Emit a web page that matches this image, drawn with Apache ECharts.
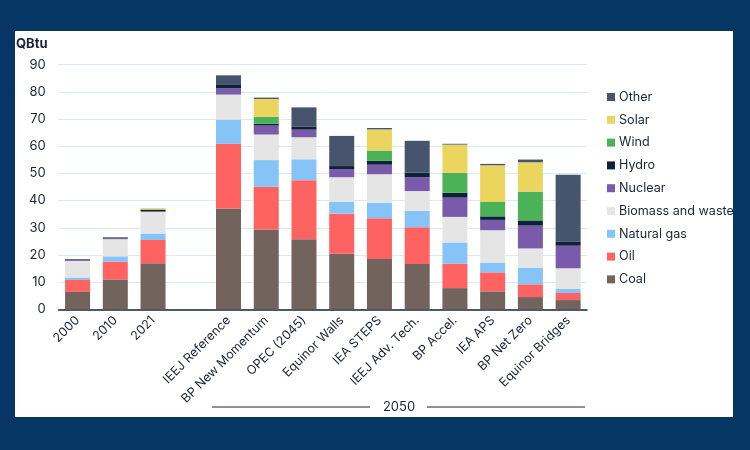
<!DOCTYPE html>
<html>
<head>
<meta charset="utf-8">
<script src="https://cdn.jsdelivr.net/npm/echarts@6/dist/echarts.min.js"></script>
<style>
html,body{margin:0;padding:0;background:#063764;width:750px;height:450px;overflow:hidden;}
#panel{position:absolute;left:15px;top:31px;width:718px;height:386px;background:#ffffff;}
#chart{position:absolute;left:0;top:0;width:750px;height:450px;}
</style>
</head>
<body>
<div id="panel"></div>
<div id="chart"></div>
<script>
const categories = ['2000','2010','2021','','IEEJ Reference','BP New Momentum','OPEC (2045)','Equinor Walls','IEA STEPS','IEEJ Adv. Tech.','BP Accel.','IEA APS','BP Net Zero','Equinor Bridges'];
const coal    = [6.4, 11.0, 16.9, '-', 37.1, 29.4, 25.8, 20.4, 18.5, 16.7, 7.8, 6.6, 4.5, 3.4];
const oil     = [4.4, 6.5, 8.6, '-', 23.8, 15.7, 21.7, 14.8, 15.0, 13.5, 9.0, 7.0, 4.7, 2.6];
const gas     = [0.9, 2.0, 2.4, '-', 8.9, 9.8, 7.7, 4.3, 5.7, 6.0, 7.8, 3.6, 6.0, 1.5];
const biomass = [6.1, 6.3, 7.9, '-', 9.2, 9.4, 8.1, 9.1, 10.5, 7.3, 9.4, 11.9, 7.2, 7.6];
const nuclear = [0.3, 0.3, 0.3, '-', 2.3, 3.3, 2.8, 3.0, 3.5, 5.1, 7.1, 3.8, 8.4, 8.3];
const hydro   = [0.1, 0.3, 0.5, '-', 1.5, 0.7, 1.2, 1.1, 1.4, 1.7, 1.8, 1.3, 1.9, 1.6];
const wind    = [0, 0.1, 0.2, '-', 0, 2.5, 0, 0, 3.8, 0, 7.3, 5.3, 10.6, 0];
const solar   = [0, 0, 0.4, '-', 0, 6.6, 0, 0, 7.8, 0, 10.4, 13.5, 10.8, 0];
const other   = [0.3, 0.1, 0, '-', 3.3, 0.5, 7.0, 11.1, 0.5, 11.7, 0.3, 0.5, 1.0, 24.5];
const yTicks  = [0, 10, 20, 30, 40, 50, 60, 70, 80, 90];

const seriesDefs = [
  ['Coal', coal, '#72645c'],
  ['Oil', oil, '#ff6361'],
  ['Natural gas', gas, '#86c3f6'],
  ['Biomass and waste', biomass, '#e6e5e5'],
  ['Nuclear', nuclear, '#7a5aaa'],
  ['Hydro', hydro, '#0d2236'],
  ['Wind', wind, '#4cb257'],
  ['Solar', solar, '#ebd55e'],
  ['Other', other, '#46556d']
];
const legendOrder = ['Other','Solar','Wind','Hydro','Nuclear','Biomass and waste','Natural gas','Oil','Coal'];
const FONT = 'Inter, "Noto Sans", sans-serif';
const TXT = '#1a2535';

const chart = echarts.init(document.getElementById('chart'), null, {renderer:'canvas'});
chart.setOption({
  animation: false,
  textStyle: {fontFamily: FONT},
  grid: {left: 58.7, right: 163, top: 64.7, bottom: 140.7, containLabel: false},
  legend: {
    orient: 'vertical', left: 602, top: 84,
    data: legendOrder, icon: 'rect', itemWidth: 8, itemHeight: 8, itemGap: 6.8,
    textStyle: {color: TXT, fontSize: 12.6, fontFamily: FONT, lineHeight: 16, padding: [0,0,0,-1]},
    selectedMode: false
  },
  xAxis: {
    type: 'category', data: categories,
    axisLine: {lineStyle: {color: '#1a2535', width: 1.5}},
    axisTick: {show: false},
    axisLabel: {rotate: 45, interval: 0, color: TXT, fontSize: 12.5, margin: 9, fontFamily: FONT}
  },
  yAxis: {
    type: 'value', min: yTicks[0], max: yTicks[yTicks.length-1], interval: 10,
    axisLine: {show: false}, axisTick: {show: false},
    splitLine: {lineStyle: {color: '#dbe9f7', width: 1}},
    axisLabel: {color: TXT, fontSize: 13, margin: 13, fontFamily: FONT}
  },
  series: seriesDefs.map(([name, data, color]) => ({
    name, type: 'bar', stack: 'total', data, barWidth: 25,
    itemStyle: {color}
  })),
  graphic: [
    {type: 'text', left: 16, top: 38, style: {text: 'QBtu', fill: TXT, font: 'bold 13px ' + FONT}},
    {type: 'line', shape: {x1: 212, y1: 407, x2: 370, y2: 407}, style: {stroke: TXT, lineWidth: 1.2}},
    {type: 'text', x: 399, y: 407, style: {text: '2050', fill: TXT, font: '13px ' + FONT, textAlign: 'center', textVerticalAlign: 'middle'}},
    {type: 'line', shape: {x1: 427, y1: 407, x2: 585, y2: 407}, style: {stroke: TXT, lineWidth: 1.2}}
  ]
});
</script>
</body>
</html>
